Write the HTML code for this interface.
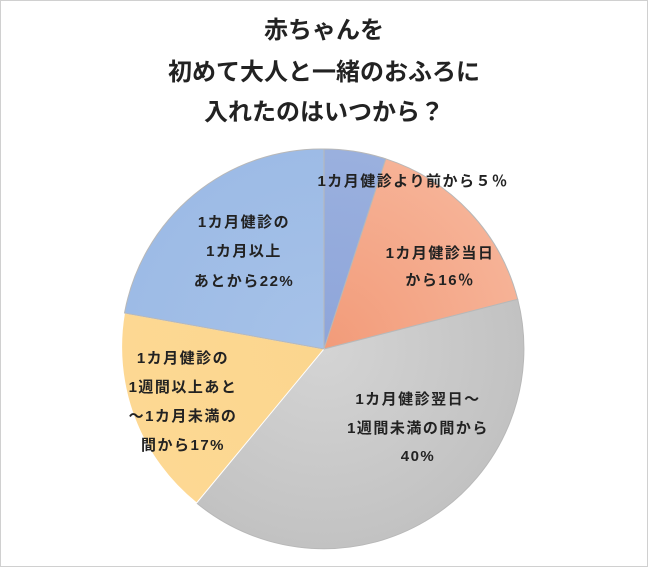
<!DOCTYPE html>
<html><head><meta charset="utf-8"><style>
body{margin:0;background:#fff;}
svg{display:block}
text{font-family:"Liberation Sans","Noto Sans CJK JP",sans-serif;font-weight:bold;fill:#222}
</style></head><body>
<svg width="648" height="567" viewBox="0 0 648 567">
<defs>
<radialGradient id="gb" cx="324" cy="349" r="200" gradientUnits="userSpaceOnUse"><stop offset="0" stop-color="#8ea5da"/><stop offset="1" stop-color="#9ab0de"/></radialGradient>
<radialGradient id="gs" cx="324" cy="349" r="200" gradientUnits="userSpaceOnUse"><stop offset="0" stop-color="#f29b79"/><stop offset="1" stop-color="#f6b296"/></radialGradient>
<radialGradient id="gg" cx="324" cy="349" r="200" gradientUnits="userSpaceOnUse"><stop offset="0" stop-color="#d4d4d4"/><stop offset="1" stop-color="#c2c2c2"/></radialGradient>
<radialGradient id="gy" cx="324" cy="349" r="200" gradientUnits="userSpaceOnUse"><stop offset="0" stop-color="#fbd68e"/><stop offset="1" stop-color="#fdd893"/></radialGradient>
<radialGradient id="gl" cx="324" cy="349" r="200" gradientUnits="userSpaceOnUse"><stop offset="0" stop-color="#a6c2e8"/><stop offset="1" stop-color="#9dbbe6"/></radialGradient>
</defs>
<rect x="0.5" y="0.5" width="647" height="566" fill="none" stroke="#d0d0d0"/>
<text x="324" y="38" font-size="24" text-anchor="middle">赤ちゃんを</text>
<text x="324" y="80" font-size="24" text-anchor="middle">初めて大人と一緒のおふろに</text>
<text x="324" y="120" font-size="24" text-anchor="middle">入れたのはいつから？</text>
<g stroke="#b8b8b8" stroke-width="1">
<path d="M324,349 L324,149 A200,200 0 0 1 385.8,158.8 Z" fill="url(#gb)"/>
<path d="M324,349 L385.8,158.8 A200,200 0 0 1 517.7,299.3 Z" fill="url(#gs)"/>
<path d="M324,349 L517.7,299.3 A200,200 0 0 1 196.6,503 Z" fill="url(#gg)"/>
<path d="M324,349 L196.6,503 A200,200 0 0 1 124.5,313 Z" fill="url(#gy)" stroke="#fff"/>
<path d="M324,349 L124.5,313 A200,200 0 0 1 324,149 Z" fill="url(#gl)"/>
</g>
<g font-size="15" letter-spacing="1.5">
<text x="413" y="186" text-anchor="middle">1カ月健診より前から５％</text>
<text x="440" y="258" text-anchor="middle">1カ月健診当日</text>
<text x="440" y="285" text-anchor="middle">から16％</text>
<text x="244" y="227" text-anchor="middle">1カ月健診の</text>
<text x="244" y="256" text-anchor="middle">1カ月以上</text>
<text x="244" y="286" text-anchor="middle">あとから22%</text>
<text x="183" y="363" text-anchor="middle">1カ月健診の</text>
<text x="183" y="392" text-anchor="middle">1週間以上あと</text>
<text x="183" y="421" text-anchor="middle">～1カ月未満の</text>
<text x="183" y="450" text-anchor="middle">間から17%</text>
<text x="418" y="404" text-anchor="middle">1カ月健診翌日～</text>
<text x="418" y="433" text-anchor="middle">1週間未満の間から</text>
<text x="418" y="461" text-anchor="middle">40%</text>
</g>
</svg>
</body></html>
